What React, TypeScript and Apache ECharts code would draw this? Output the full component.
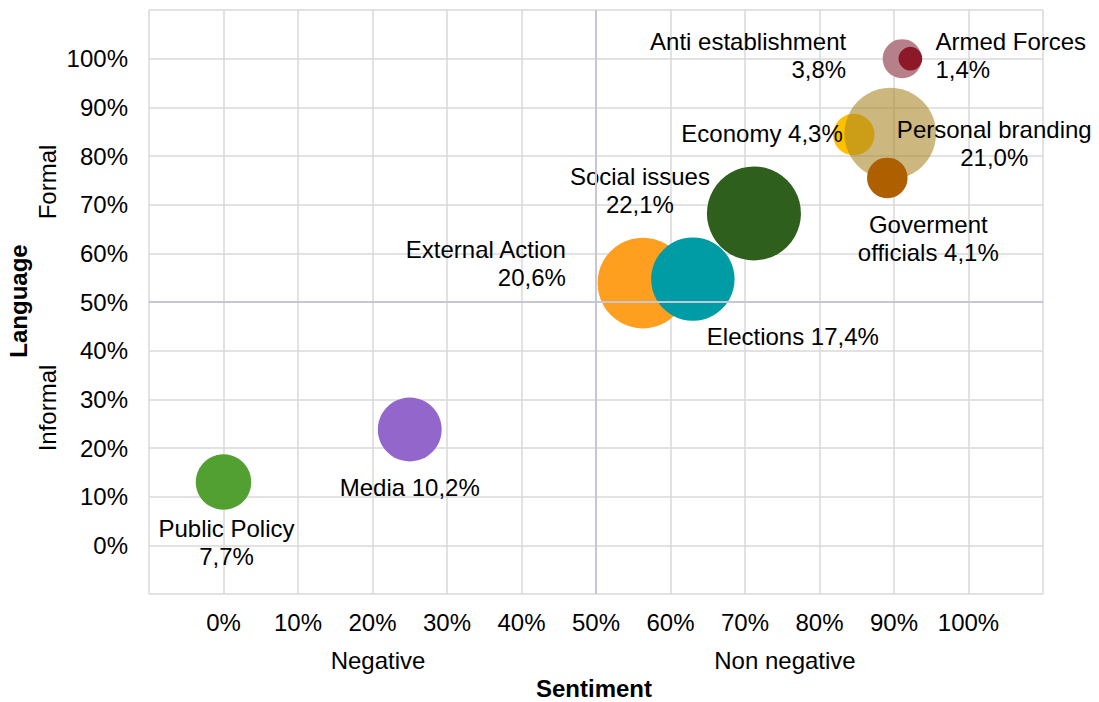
import React, { useEffect, useRef } from "react";
import * as echarts from "echarts";

const topics = [
  "Public Policy",
  "Media",
  "External Action",
  "Elections",
  "Social issues",
  "Economy",
  "Personal branding",
  "Goverment officials",
  "Anti establishment",
  "Armed Forces",
];
const sentiment = [0, 25, 56.3, 63, 71.2, 84.6, 89.5, 89.1, 91.1, 92.2];
const language = [13, 23.8, 53.9, 54.7, 68.2, 84.4, 84.6, 75.5, 100, 100];
const share = [7.7, 10.2, 20.6, 17.4, 22.1, 4.3, 21.0, 4.1, 3.8, 1.4];
const labelTexts = [
  "Public Policy\n7,7%",
  "Media 10,2%",
  "External Action\n20,6%",
  "Elections 17,4%",
  "Social issues\n22,1%",
  "Economy 4,3%",
  "Personal branding\n21,0%",
  "Goverment\nofficials 4,1%",
  "Anti establishment\n3,8%",
  "Armed Forces\n1,4%",
];
const colors = [
  "#51a031",
  "#9366cc",
  "#ff9f1f",
  "#009ca5",
  "#2f5f1d",
  "#ffc000",
  "rgba(170,135,40,0.6)",
  "#ae5f00",
  "#b6808a",
  "#8c1828",
];
// label placement (style): offset from bubble centre and alignment
const labelOffsets: [number, number][] = [
  [3, 60],
  [0, 58],
  [-77, -20],
  [100, 57],
  [-114, -23],
  [-11, -1],
  [104, 10],
  [41, 61],
  [-56, -3],
  [25, -3],
];
const labelAligns = ["center", "center", "right", "center", "center", "right", "center", "center", "right", "left"];

const FONT = "'Liberation Sans', Arial, sans-serif";
const FS = 24;

export default function App() {
  const ref = useRef<HTMLDivElement>(null);
  useEffect(() => {
    if (!ref.current) return;
    const chart = echarts.init(ref.current, undefined, { renderer: "svg" });
    const fmt = (v: number) => (v < 0 || v > 100 ? "" : v + "%");
    const data = topics.map((name, i) => ({
      name,
      value: [sentiment[i], language[i], share[i]],
      itemStyle: { color: colors[i], opacity: 1 },
      label: {
        show: true,
        position: "inside",
        formatter: labelTexts[i],
        offset: labelOffsets[i],
        align: labelAligns[i],
        verticalAlign: "middle",
        color: "#000",
        fontSize: FS,
        lineHeight: 28,
        fontFamily: FONT,
      },
    }));
    chart.setOption({
      animation: false,
      textStyle: { fontFamily: FONT },
      grid: { left: 149, right: 56, top: 10, bottom: 108, containLabel: false },
      xAxis: {
        type: "value",
        min: -10,
        max: 110,
        interval: 10,
        axisLine: { show: false },
        axisTick: { show: false },
        axisLabel: { formatter: fmt, color: "#000", fontSize: FS, margin: 16, fontFamily: FONT },
        splitLine: { show: true, lineStyle: { color: "#d9d9d9", width: 1.5 } },
      },
      yAxis: {
        type: "value",
        min: -10,
        max: 110,
        interval: 10,
        axisLine: { show: false },
        axisTick: { show: false },
        axisLabel: { formatter: fmt, color: "#000", fontSize: FS, margin: 21, fontFamily: FONT },
        splitLine: { show: true, lineStyle: { color: "#d9d9d9", width: 1.5 } },
      },
      series: [
        {
          type: "scatter",
          z: 1,
          data: [],
          markLine: {
            silent: true,
            symbol: ["none", "none"],
            label: { show: false },
            lineStyle: { color: "#c6c6d6", width: 2, type: "solid" },
            data: [{ xAxis: 50 }, { yAxis: 50 }],
          },
        },
        {
          type: "scatter",
          z: 3,
          symbol: "circle",
          symbolSize: (v: number[]) => 20 * Math.sqrt(v[2]),
          data,
          emphasis: { disabled: true },
        },
      ],
      graphic: [
        {
          type: "text",
          x: 18,
          y: 301,
          rotation: Math.PI / 2,
          style: { text: "Language", font: `bold ${FS}px ${FONT}`, fill: "#000", align: "center", verticalAlign: "middle" },
        },
        {
          type: "text",
          x: 47,
          y: 182,
          rotation: Math.PI / 2,
          style: { text: "Formal", font: `${FS}px ${FONT}`, fill: "#000", align: "center", verticalAlign: "middle" },
        },
        {
          type: "text",
          x: 47,
          y: 408,
          rotation: Math.PI / 2,
          style: { text: "Informal", font: `${FS}px ${FONT}`, fill: "#000", align: "center", verticalAlign: "middle" },
        },
        {
          type: "text",
          x: 378,
          y: 660,
          style: { text: "Negative", font: `${FS}px ${FONT}`, fill: "#000", align: "center", verticalAlign: "middle" },
        },
        {
          type: "text",
          x: 785,
          y: 660,
          style: { text: "Non negative", font: `${FS}px ${FONT}`, fill: "#000", align: "center", verticalAlign: "middle" },
        },
        {
          type: "text",
          x: 594,
          y: 688,
          style: { text: "Sentiment", font: `bold ${FS}px ${FONT}`, fill: "#000", align: "center", verticalAlign: "middle" },
        },
      ],
    });
    return () => chart.dispose();
  }, []);
  return (
    <div
      ref={ref}
      style={{ position: "fixed", left: 0, top: 0, width: 1099, height: 702, background: "#fff" }}
    />
  );
}
